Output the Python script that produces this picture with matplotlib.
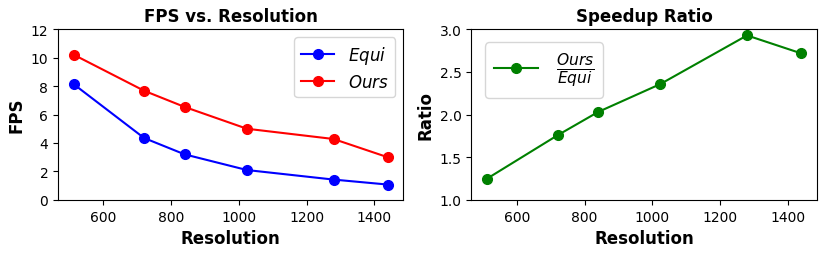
import matplotlib
matplotlib.use('Agg')
from matplotlib import pyplot as plt

"""Data
"""
resolution = [512, 720, 840, 1024, 1280, 1440]
fps_equi = [8.13, 4.35, 3.2, 2.1, 1.43, 1.08]
fps_ours = [10.2, 7.67, 6.53, 5.0, 4.28, 3.0]
ratio = [1.25, 1.757, 2.03, 2.357, 2.926, 2.716]

"""Plot
"""
f, axs = plt.subplots(1, 2, figsize=(8.31, 2.55), dpi=100)
f.subplots_adjust(left=0.0698, right=0.983, bottom=0.212, top=0.882, wspace=0.197)

ax = axs[0]
ax.plot(resolution, fps_equi, color='b', marker='o', markersize=7, label='$Equi$')
ax.plot(resolution, fps_ours, color='r', marker='o', markersize=7, label='$Ours$')
ax.set_ylim(0, 12)
ax.set_yticks(range(0, 13, 2))
ax.set_title('FPS vs. Resolution', fontsize=12, fontweight='bold')
ax.set_xlabel('Resolution', fontsize=12, fontweight='bold')
ax.set_ylabel('FPS', fontsize=12, fontweight='bold')
ax.legend(loc='upper right', fontsize=12, labelspacing=0.4)

ax = axs[1]
ax.plot(resolution, ratio, color='g', marker='o', markersize=7, label=r'$\frac{Ours}{Equi}$')
ax.set_ylim(1.0, 3.0)
ax.set_title('Speedup Ratio', fontsize=12, fontweight='bold')
ax.set_xlabel('Resolution', fontsize=12, fontweight='bold')
ax.set_ylabel('Ratio', fontsize=12, fontweight='bold')
ax.legend(loc='upper left', fontsize=16, borderaxespad=0.6)

for ax in axs:
    ax.set_xticks([600, 800, 1000, 1200, 1400])

f.savefig('out.png')
